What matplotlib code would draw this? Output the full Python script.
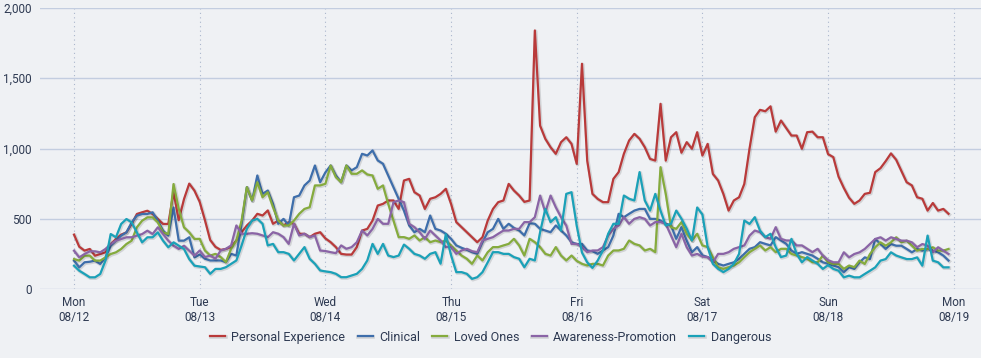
import numpy as np
import pandas as pd
import matplotlib
matplotlib.use("Agg")
import matplotlib.pyplot as plt
import matplotlib.dates as mdates
import matplotlib.patheffects as pe

plt.rcParams['font.family'] = ['Roboto', 'DejaVu Sans']

# hourly counts, Mon 08/12 00:00 .. Sun 08/18 23:00
personal = [
    387, 301, 273, 285, 237, 249, 261, 320, 356, 387, 403, 463, 534, 546, 557, 534, 498, 463, 463, 690, 490, 640, 750, 700,
    620, 490, 349, 300, 278, 285, 300, 345, 404, 452, 487, 535, 523, 559, 464, 487, 452, 476, 464, 393, 393, 369, 393, 404,
    360, 333, 298, 250, 245, 245, 298, 416, 428, 487, 594, 606, 630, 630, 570, 772, 784, 689, 665, 570, 642, 653, 677, 713,
    606, 476, 440, 404, 369, 333, 369, 487, 570, 618, 630, 748, 701, 665, 620, 630, 1840, 1163, 1069, 1009, 962, 1045, 1080, 1033,
    891, 1603, 914, 677, 641, 618, 618, 784, 832, 962, 1057, 1104, 1069, 1009, 926, 914, 1318, 914, 1080, 1116, 970, 1045, 998, 1116,
    950, 1033, 819, 772, 677, 558, 630, 653, 748, 1000, 1223, 1275, 1265, 1300, 1120, 1199, 1145, 1092, 1092, 998, 1116, 1120, 1080, 1080,
    960, 938, 800, 720, 650, 606, 630, 677, 685, 832, 860, 910, 965, 920, 840, 760, 737, 653, 642, 558, 612, 558, 570, 535,
]
clinical = [
    202, 154, 190, 194, 202, 178, 225, 308, 344, 380, 403, 474, 522, 534, 534, 546, 486, 415, 380, 580, 344, 344, 368, 225,
    245, 215, 203, 203, 203, 191, 250, 238, 464, 725, 630, 808, 677, 701, 606, 464, 499, 452, 653, 665, 737, 772, 879, 760,
    830, 879, 808, 760, 879, 844, 867, 962, 950, 986, 915, 891, 808, 725, 642, 558, 452, 404, 428, 404, 523, 428, 416, 393,
    357, 310, 293, 279, 262, 250, 333, 404, 428, 499, 428, 464, 435, 416, 381, 468, 464, 428, 416, 404, 452, 416, 381, 333,
    320, 321, 274, 269, 250, 274, 298, 381, 535, 511, 535, 558, 570, 570, 499, 499, 487, 464, 452, 357, 440, 345, 262, 298,
    240, 227, 203, 179, 167, 179, 190, 215, 250, 286, 298, 333, 321, 310, 369, 345, 321, 274, 250, 262, 250, 238, 215, 190,
    179, 167, 155, 119, 155, 143, 190, 225, 213, 356, 320, 285, 320, 308, 308, 285, 261, 285, 273, 285, 273, 261, 238, 202,
]
loved = [
    213, 202, 237, 237, 202, 202, 225, 249, 261, 285, 320, 344, 439, 486, 510, 510, 474, 403, 391, 747, 570, 439, 403, 356,
    357, 274, 238, 250, 227, 191, 286, 345, 487, 725, 630, 760, 653, 689, 582, 487, 452, 452, 487, 535, 570, 582, 737, 737,
    749, 879, 796, 760, 879, 820, 820, 844, 815, 808, 713, 737, 606, 487, 369, 369, 357, 381, 345, 369, 333, 345, 333, 345,
    310, 274, 238, 215, 179, 238, 203, 262, 298, 298, 310, 321, 357, 310, 238, 357, 333, 298, 250, 238, 298, 238, 203, 238,
    200, 179, 167, 179, 179, 167, 238, 274, 274, 286, 345, 321, 310, 274, 286, 262, 867, 677, 440, 428, 476, 393, 345, 393,
    310, 298, 227, 155, 143, 155, 167, 190, 227, 262, 286, 310, 274, 298, 262, 286, 286, 250, 238, 227, 215, 190, 190, 238,
    190, 178, 178, 143, 167, 155, 202, 178, 249, 297, 332, 308, 332, 368, 332, 344, 308, 273, 285, 285, 297, 273, 273, 285,
]
awareness = [
    273, 225, 249, 268, 268, 261, 285, 320, 344, 356, 368, 368, 380, 391, 415, 391, 439, 391, 344, 308, 285, 308, 273, 237,
    274, 227, 238, 215, 274, 286, 310, 452, 393, 393, 397, 393, 381, 369, 404, 393, 369, 321, 464, 381, 393, 369, 381, 274,
    270, 262, 255, 310, 286, 298, 333, 416, 381, 428, 499, 464, 464, 618, 630, 618, 464, 440, 404, 357, 416, 381, 345, 298,
    300, 250, 274, 286, 269, 262, 345, 357, 369, 393, 416, 416, 428, 428, 476, 476, 511, 665, 547, 665, 582, 511, 452, 321,
    321, 298, 262, 274, 274, 298, 381, 428, 452, 511, 464, 499, 511, 499, 452, 476, 476, 464, 381, 298, 393, 298, 238, 250,
    230, 227, 190, 250, 250, 262, 286, 298, 310, 380, 416, 404, 369, 357, 440, 357, 345, 345, 310, 310, 286, 262, 286, 238,
    205, 190, 190, 261, 225, 249, 261, 285, 320, 356, 368, 344, 368, 356, 344, 344, 332, 297, 320, 308, 261, 297, 273, 249,
]
dangerous = [
    166, 130, 107, 83, 83, 107, 202, 391, 368, 463, 498, 474, 403, 332, 368, 368, 403, 344, 297, 332, 308, 285, 213, 166,
    160, 155, 108, 143, 143, 155, 179, 203, 310, 428, 487, 499, 464, 310, 321, 262, 262, 250, 203, 250, 298, 215, 179, 132,
    125, 120, 108, 84, 84, 96, 108, 143, 203, 321, 250, 321, 238, 227, 238, 316, 286, 250, 238, 215, 250, 262, 180, 390,
    240, 120, 120, 108, 72, 84, 120, 190, 262, 262, 250, 250, 227, 215, 155, 215, 203, 404, 570, 476, 511, 416, 677, 689,
    450, 260, 190, 150, 203, 274, 393, 464, 464, 665, 642, 630, 832, 630, 558, 677, 558, 452, 464, 558, 500, 430, 345, 580,
    530, 300, 179, 143, 120, 143, 179, 250, 487, 463, 511, 416, 369, 393, 298, 227, 238, 357, 250, 190, 227, 203, 179, 143,
    170, 143, 130, 83, 95, 83, 83, 107, 130, 154, 202, 213, 261, 238, 225, 213, 213, 225, 166, 380, 202, 190, 154, 154,
]

names = ["Personal Experience", "Clinical", "Loved Ones", "Awareness-Promotion", "Dangerous"]
colors = ["#b93a3a", "#3e6eab", "#85ab3d", "#8a64a6", "#1aa1b8"]
series = [personal, clinical, loved, awareness, dangerous]

times = pd.date_range("2019-08-12", periods=len(personal), freq="h")

bg = "#eff1f4"
fig = plt.figure(figsize=(9.81, 3.58), dpi=100, facecolor=bg)
ax = fig.add_axes([40 / 981, 69 / 358, 941 / 981, 281 / 358], facecolor=bg)

shadow = [pe.SimpleLineShadow(offset=(0.6, -0.6), shadow_color="#000000", alpha=0.12, linewidth=2.6), pe.Normal()]
for vals, name, col in zip(series, names, colors):
    ax.plot(times, vals, color=col, lw=1.6, label=name, path_effects=shadow, solid_joinstyle="round")

start = pd.Timestamp("2019-08-12")
ax.set_xlim(start - pd.Timedelta(hours=6.5), start + pd.Timedelta(hours=173.2))
ax.set_ylim(0, 2000)

ax.set_yticks([0, 500, 1000, 1500, 2000])
ax.set_yticklabels(["0", "500", "1,000", "1,500", "2,000"])
ax.grid(axis="y", color="#c3cde0", lw=1)
days = pd.date_range("2019-08-12", periods=8, freq="D")
ax.set_xticks(days)
ax.set_xticklabels([d.strftime("%a") + "\n" + d.strftime("%m/%d") for d in days])
ax.grid(axis="x", color="#aab6cc", lw=0.8, linestyle=(0, (1, 3)))
ax.set_axisbelow(True)

for s in ax.spines.values():
    s.set_visible(False)
ax.tick_params(axis="both", length=0, colors="#2e3a52", labelsize=8.5)
ax.tick_params(axis="x", pad=5)
ax.tick_params(axis="y", pad=6)

fig.legend(loc="center", bbox_to_anchor=(0.5, 0.058), ncol=5, frameon=False,
           fontsize=9, handlelength=1.2, handletextpad=0.5, columnspacing=1.0,
           labelcolor="#2e3a52")

fig.savefig("out.png", dpi=100, facecolor=bg)
